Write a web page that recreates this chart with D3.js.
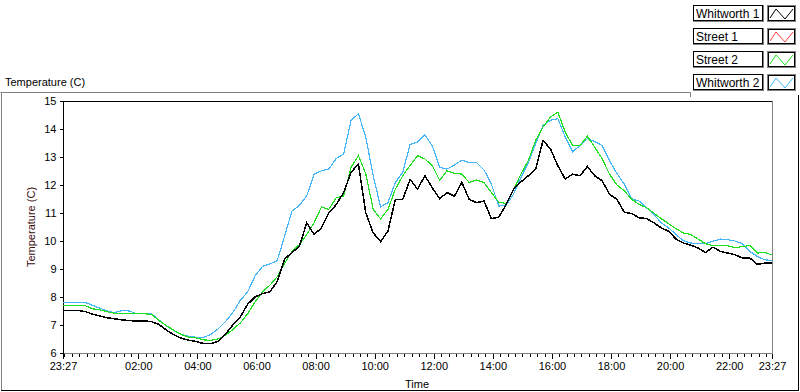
<!DOCTYPE html>
<html>
<head>
<meta charset="utf-8">
<script src="https://cdn.jsdelivr.net/npm/d3@7"></script>
<style>
  body { margin: 0; background: #fff; }
  svg { display: block; font-family: "Liberation Sans", Arial, sans-serif; }
</style>
</head>
<body>
<div id="chart"></div>
<script>
// series names, in legend order
var seriesNames = ["Whitworth 1", "Street 1", "Street 2", "Whitworth 2"];
var seriesColors = ["#000000", "#ff4040", "#1ee01e", "#45b6fa"];

// one sample every 15 min from 23:27 to 23:27 the next day
var whitworth1 = [7.52, 7.52, 7.52, 7.48, 7.39, 7.32, 7.26, 7.22, 7.18, 7.16, 7.14, 7.15, 7.12, 7.02, 6.82, 6.65, 6.53, 6.46, 6.41, 6.34, 6.33, 6.42, 6.67, 7.00, 7.28,
    7.74, 8.00, 8.12, 8.18, 8.55, 9.35, 9.59, 9.80, 10.65, 10.23, 10.47, 11.00, 11.30, 11.73, 12.45, 12.75, 11.00, 10.29, 9.98, 10.35, 11.49, 11.49, 12.20,
    11.85, 12.33, 11.90, 11.51, 11.73, 11.60, 12.09, 11.49, 11.37, 11.43, 10.80, 10.85, 11.30, 11.85, 12.11, 12.33, 12.57, 13.59, 13.29, 12.69, 12.21, 12.39, 12.33, 12.66,
    12.33, 12.15, 11.67, 11.49, 11.03, 10.98, 10.83, 10.80, 10.65, 10.47, 10.35, 10.07, 9.93, 9.85, 9.75, 9.59, 9.78, 9.63, 9.57, 9.51, 9.39, 9.39, 9.17, 9.21, 9.21];
var street1 = [];
var street2 = [7.69, 7.69, 7.69, 7.69, 7.58, 7.54, 7.47, 7.42, 7.40, 7.40, 7.40, 7.40, 7.38, 7.16, 6.98, 6.81, 6.66, 6.57, 6.54, 6.47, 6.45, 6.50, 6.63, 6.84, 7.07,
    7.40, 7.82, 8.18, 8.42, 8.72, 9.20, 9.63, 9.87, 10.23, 10.65, 11.22, 11.13, 11.55, 11.60, 12.63, 13.05, 12.39, 11.13, 10.79, 11.13, 11.85, 12.33, 12.70,
    13.05, 12.93, 12.69, 12.17, 12.51, 12.42, 12.39, 12.09, 12.18, 12.09, 11.73, 11.39, 11.34, 11.82, 12.39, 12.87, 13.59, 14.07, 14.43, 14.60, 13.89, 13.41, 13.41, 13.74,
    13.35, 12.93, 12.39, 12.00, 11.79, 11.49, 11.31, 11.19, 11.00, 10.80, 10.62, 10.44, 10.29, 10.23, 10.07, 9.90, 9.83, 9.83, 9.83, 9.76, 9.80, 9.84, 9.57, 9.59, 9.50];
var whitworth2 = [7.81, 7.81, 7.81, 7.81, 7.70, 7.60, 7.50, 7.44, 7.52, 7.50, 7.40, 7.40, 7.40, 7.18, 6.97, 6.80, 6.66, 6.60, 6.56, 6.55, 6.66, 6.86, 7.12, 7.45, 7.88,
    8.18, 8.75, 9.09, 9.18, 9.29, 10.17, 11.07, 11.27, 11.61, 12.39, 12.51, 12.57, 12.95, 13.11, 14.30, 14.55, 13.70, 12.33, 11.22, 11.37, 12.09, 12.45, 13.45,
    13.53, 13.79, 13.40, 12.63, 12.57, 12.71, 12.89, 12.80, 12.80, 12.54, 12.03, 11.25, 11.27, 11.67, 12.27, 12.80, 13.47, 14.13, 14.31, 14.37, 13.71, 13.19, 13.41, 13.65,
    13.55, 13.41, 12.87, 12.41, 12.03, 11.51, 11.43, 11.19, 10.95, 10.65, 10.47, 10.23, 10.01, 9.93, 9.90, 9.90, 9.99, 10.07, 10.05, 10.00, 9.90, 9.63, 9.45, 9.33, 9.30];

var yTicks = [6, 7, 8, 9, 10, 11, 12, 13, 14, 15];
var xTickHours = [2, 4, 6, 8, 10, 12, 14, 16, 18, 20, 22];

var width = 800, height = 392;
var margin = {left: 63, right: 28, top: 101, bottom: 39};

var t0 = new Date(2000, 0, 1, 23, 27);
var t1 = new Date(2000, 0, 2, 23, 27);
var times = d3.range(97).map(function (i) { return d3.timeMinute.offset(t0, 15 * i); });

var x = d3.scaleTime().domain([t0, t1]).range([margin.left, width - margin.right]);
var y = d3.scaleLinear().domain([6, 15]).range([height - margin.bottom, margin.top]);

var svg = d3.select("#chart").append("svg")
    .attr("width", width)
    .attr("height", height);

// outer panel frame
svg.append("path").attr("d", "M0.5,92.5H690.5V97").attr("stroke", "#808080").attr("fill", "none");
svg.append("line").attr("x1", 1.5).attr("x2", 1.5).attr("y1", 92).attr("y2", 391).attr("stroke", "#808080");
svg.append("line").attr("x1", 1).attr("x2", 799).attr("y1", 390.5).attr("y2", 390.5).attr("stroke", "#000");
svg.append("line").attr("x1", 798.5).attr("x2", 798.5).attr("y1", 95).attr("y2", 391).attr("stroke", "#000");

svg.append("text")
    .attr("x", 5).attr("y", 86)
    .attr("font-size", 11)
    .text("Temperature (C)");

// plot frame
var x0 = margin.left, x1 = width - margin.right;
var yTop = margin.top, yBot = height - margin.bottom;
svg.append("line").attr("x1", x0).attr("x2", x1 + 0.5).attr("y1", yTop + 0.5).attr("y2", yTop + 0.5).attr("stroke", "#000");
svg.append("line").attr("x1", x1 + 0.5).attr("x2", x1 + 0.5).attr("y1", yTop).attr("y2", yBot + 0.5).attr("stroke", "#808080");
svg.append("line").attr("x1", x0).attr("x2", x1 + 0.5).attr("y1", yBot + 0.5).attr("y2", yBot + 0.5).attr("stroke", "#808080");
svg.append("line").attr("x1", x0 + 0.5).attr("x2", x0 + 0.5).attr("y1", yTop).attr("y2", yBot + 1).attr("stroke", "#000");

// y axis
var yAxis = d3.axisLeft(y).tickValues(yTicks).tickSize(4).tickPadding(3).tickFormat(d3.format("d"));
var gy = svg.append("g").attr("transform", "translate(" + (x0 + 0.5) + ",0)").call(yAxis);
gy.select(".domain").remove();
gy.selectAll("text").attr("font-size", 11).attr("fill", "#000").style("font-family", "Liberation Sans, Arial, sans-serif");

svg.append("text")
    .attr("transform", "translate(35," + ((yTop + yBot) / 2) + ") rotate(-90)")
    .attr("text-anchor", "middle")
    .attr("font-size", 11)
    .attr("fill", "#3a0c0c")
    .text("Temperature (C)");

// x axis: minor ticks every 15 min, major ticks at ends + even hours
var minor = d3.timeMinute.every(15).range(t0, t1);
var major = [t0].concat(xTickHours.map(function (h) { return new Date(2000, 0, 2, h, 0); })).concat([t1]);

var gxMinor = svg.append("g").attr("transform", "translate(0," + (yBot + 0.5) + ")")
    .call(d3.axisBottom(x).tickValues(minor).tickSize(3).tickFormat(""));
gxMinor.select(".domain").remove();

var gx = svg.append("g").attr("transform", "translate(0," + (yBot + 0.5) + ")")
    .call(d3.axisBottom(x).tickValues(major).tickSize(5).tickPadding(4).tickFormat(d3.timeFormat("%H:%M")));
gx.select(".domain").remove();
gx.selectAll("text").attr("font-size", 11).attr("fill", "#000").style("font-family", "Liberation Sans, Arial, sans-serif");
svg.selectAll(".tick line").attr("shape-rendering", "crispEdges");

svg.append("text")
    .attr("x", 405).attr("y", 388)
    .attr("font-size", 11)
    .text("Time");

// lines, drawn aliased like the original instrument display
var line = d3.line()
    .x(function (d) { return x(d.t); })
    .y(function (d) { return y(d.v); });

var allSeries = [whitworth1, street1, street2, whitworth2];
var drawOrder = [3, 2, 1, 0];
var plot = svg.append("g");
drawOrder.forEach(function (k) {
    var vals = allSeries[k];
    if (!vals.length) return;
    plot.append("path")
        .datum(vals.map(function (v, i) { return {t: times[i], v: v}; }))
        .attr("fill", "none")
        .attr("stroke", seriesColors[k])
        .attr("stroke-width", k === 0 ? 1.5 : 1.2)
        .attr("shape-rendering", "crispEdges")
        .attr("d", line);
});

// legend
var legend = svg.append("g");
seriesNames.forEach(function (name, i) {
    var top = 5 + i * 23;
    var g = legend.append("g").attr("transform", "translate(0," + top + ")");
    g.append("rect").attr("x", 693.5).attr("y", 0.5).attr("width", 70).attr("height", 16)
        .attr("fill", "#fff").attr("stroke", "#808080");
    g.append("rect").attr("x", 693.5).attr("y", 0.5).attr("width", 69).attr("height", 15)
        .attr("fill", "none").attr("stroke", "#000");
    g.append("text").attr("x", 696).attr("y", 12.5).attr("font-size", 12).text(name);
    g.append("rect").attr("x", 767.5).attr("y", 0.5).attr("width", 28).attr("height", 16)
        .attr("fill", "#fff").attr("stroke", "#808080").attr("stroke-width", 1);
    g.append("rect").attr("x", 768.5).attr("y", 1.5).attr("width", 26).attr("height", 14)
        .attr("fill", "none").attr("stroke", "#000").attr("stroke-width", 1);
    g.append("polyline")
        .attr("points", [[770, 13], [776, 4], [785, 14], [793, 4]].map(function (p) { return p.join(","); }).join(" "))
        .attr("fill", "none").attr("stroke", seriesColors[i]).attr("stroke-width", 1);
});
</script>
</body>
</html>
